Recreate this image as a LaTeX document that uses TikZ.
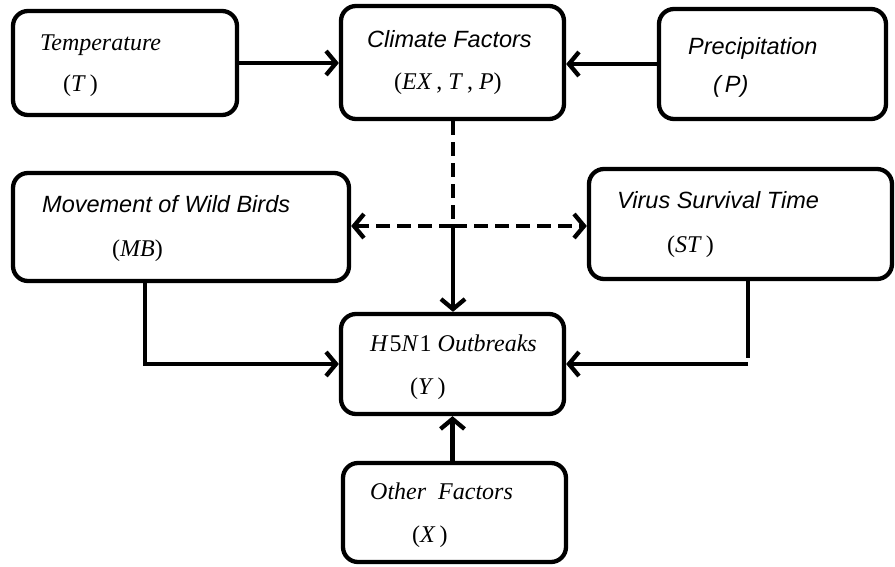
\documentclass[tikz,border=0pt]{standalone}
\usepackage{fontspec}
\setmainfont{Liberation Serif}
\setsansfont{Liberation Sans}
\usetikzlibrary{arrows.meta}
\begin{document}
\begin{tikzpicture}[x=1pt,y=-1pt,
  box/.style={draw, line width=4.3pt, rounded corners=15pt, inner sep=0pt},
  conn/.style={line width=4.3pt},
  arr/.style={conn, -{Straight Barb[length=10pt,width=24pt]}},
  dsh/.style={dash pattern=on 14pt off 7pt},
  sanslab/.style={anchor=base west, inner sep=0pt, font=\fontsize{23.5}{27}\selectfont\sffamily\itshape},
  serlab/.style={anchor=base west, inner sep=0pt, font=\fontsize{24}{28}\selectfont\rmfamily}
]
\useasboundingbox (0,0) rectangle (895,567);
% boxes
\node[box, minimum width=224pt, minimum height=104pt] (temp)  at (125,63) {};
\node[box, minimum width=223pt, minimum height=113pt] (clim)  at (452.5,62.5) {};
\node[box, minimum width=227pt, minimum height=110pt] (prec)  at (772.5,64) {};
\node[box, minimum width=336pt, minimum height=108pt] (move)  at (181,227) {};
\node[box, minimum width=303pt, minimum height=110pt] (virus) at (740.5,224) {};
\node[box, minimum width=223pt, minimum height=100pt] (h5n1)  at (452.5,364) {};
\node[box, minimum width=223pt, minimum height=99pt]  (other) at (454.5,512.5) {};
% texts
\node[serlab] (tempA) at (40,51) {\textit{Temperature}};
\node[serlab] (tempB) at (63,92) {(\textit{T}\,)};
\node[sanslab] (climA) at (367,48) {Climate Factors};
\node[serlab] (climB) at (394,90) {(\textit{EX}\,, \textit{T}\,, \textit{P})};
\node[sanslab] (precA) at (688,55) {Precipitation};
\node[sanslab] (precB) at (713,93) {(\,P)};
\node[sanslab] (moveA) at (42,212) {Movement of Wild Birds};
\node[serlab] (moveB) at (112,256) {(\textit{MB})};
\node[sanslab] (virusA) at (617,209) {Virus Survival Time};
\node[serlab] (virusB) at (667,252) {(\textit{ST}\,)};
\node[serlab] (h5n1A) at (370,351) {\textit{H}\kern1pt5\textit{N}\kern1pt1 \textit{Outbreaks}};
\node[serlab] (h5n1B) at (410,394) {(\textit{Y}\,)};
\node[serlab] (otherA) at (370,499) {\textit{Other\ \ Factors}};
\node[serlab] (otherB) at (412,542) {(\textit{X}\,)};
% connectors
\coordinate (j) at (453,226);
\draw[arr] (temp.east) -- (clim.west |- temp.east);
\draw[arr] (prec.west) -- (clim.east |- prec.west);
\draw[conn, dsh] (clim.south -| j) -- (j);
\draw[arr] (j) -- (j |- h5n1.north);
\draw[arr, dsh] (j) -- (move.east |- j);
\draw[arr, dsh] (j) -- (virus.west |- j);
\draw[arr] ([xshift=-36pt]move.south) |- (h5n1.west);
\draw[conn] ([xshift=7.5pt]virus.south) -- ([xshift=7.5pt,yshift=6pt]virus.south |- h5n1.east);
\draw[arr] ([xshift=7.5pt]virus.south |- h5n1.east) -- (h5n1.east);
\draw[arr] (h5n1.south |- other.north) -- (h5n1.south);
\end{tikzpicture}
\end{document}
